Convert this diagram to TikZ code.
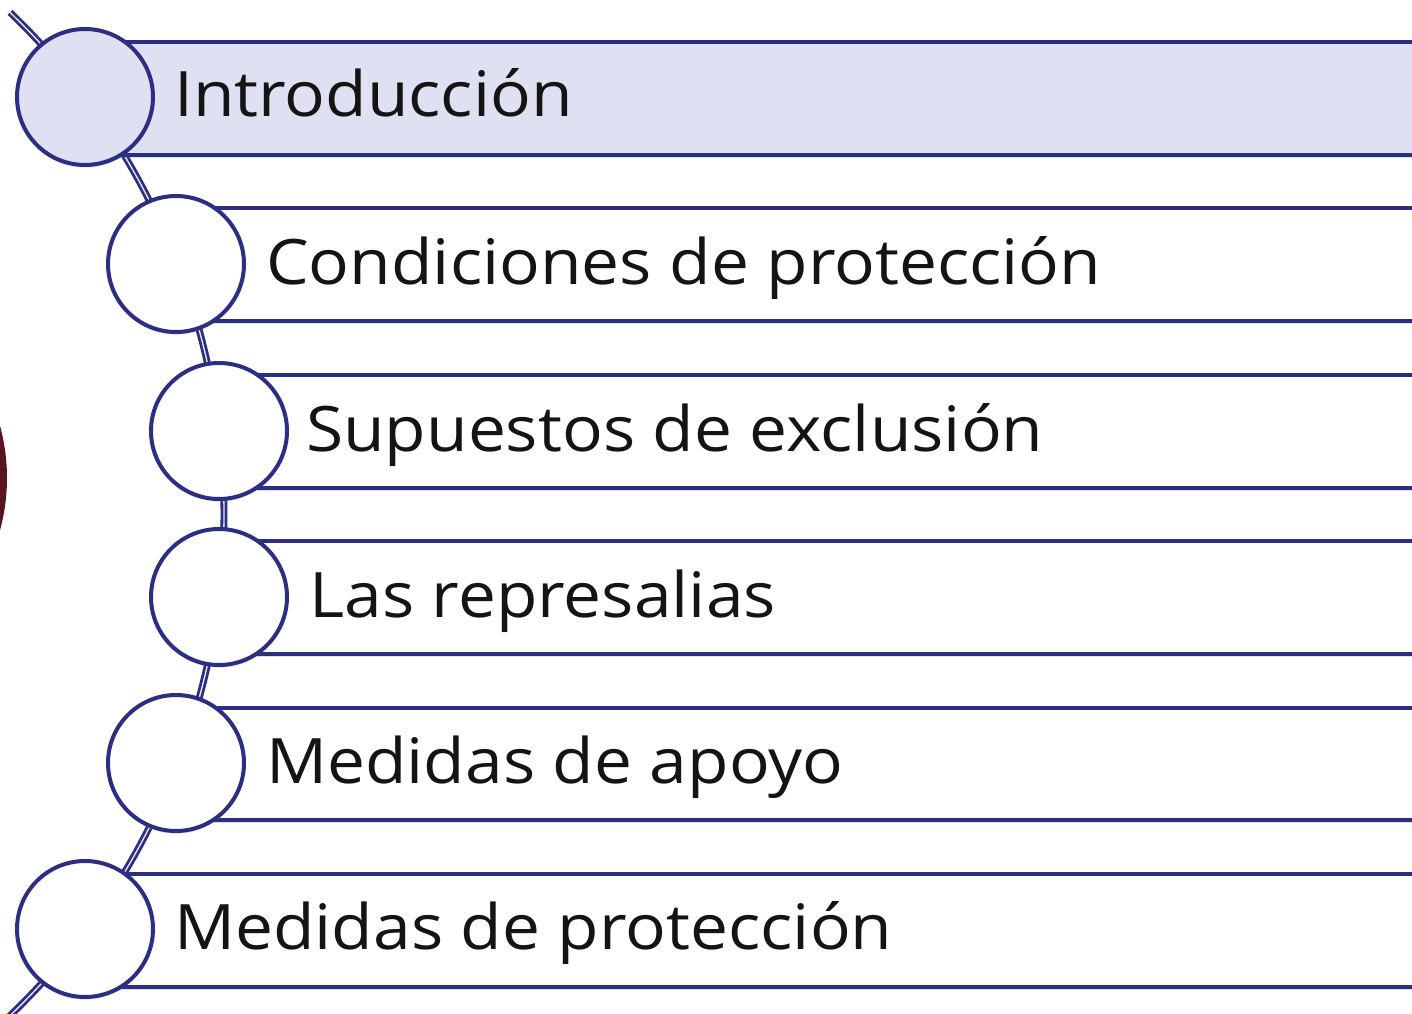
\documentclass[tikz,border=0pt]{standalone}
\usepackage{fontspec}
\setmainfont{Open Sans}[FakeStretch=1.08]
\usetikzlibrary{shadows}
\definecolor{navyline}{RGB}{44,46,132}
\definecolor{lavender}{RGB}{223,224,242}
\definecolor{darkwine}{RGB}{88,20,32}
\tikzset{
  bar/.style={draw=navyline, line width=3pt, fill=white,
    drop shadow={opacity=0.25, shadow xshift=0pt, shadow yshift=-2pt}},
  ring/.style={circle, draw=navyline, line width=3pt, fill=white,
    minimum size=102pt, inner sep=0pt,
    drop shadow={opacity=0.25, shadow xshift=0pt, shadow yshift=-2pt}},
  rowtext/.style={anchor=base west, inner sep=0pt, text=black!92,
    font=\fontsize{47}{56}\selectfont},
  spine/.style={draw=navyline, double=lavender!70!white, line width=2.1pt, double distance=1pt}
}
\begin{document}
\begin{tikzpicture}[x=0.75pt,y=0.75pt,yscale=-1,xscale=1]
    \useasboundingbox (0,0) rectangle (1412,1013);
    \clip (0,0) rectangle (1412,1013);
    \fill[white] (0,0) rectangle (1412,1013);

    %Shape: Circle cut by the left edge
    \fill[darkwine] (-189.5,478) circle [radius=196.5];

    %Curve: spine through the circles
    \coordinate (hub) at (-471,514);
    \draw[spine] (hub) ++(-46.2:695) arc [start angle=-46.2, end angle=48, radius=695];

    %Shape: Bars
    \draw[bar, fill=lavender] (85,42) rectangle (1440,155);
    \draw[bar] (176,208) rectangle (1440,321);
    \draw[bar] (219,375) rectangle (1440,488);
    \draw[bar] (219,541) rectangle (1440,654);
    \draw[bar] (176,708) rectangle (1440,820);
    \draw[bar] (85,874) rectangle (1440,987);

    %Shape: Circles
    \node (c1) [ring, fill=lavender] at (85,97) {};
    \node (c2) [ring] at (176,264) {};
    \node (c3) [ring] at (219,431) {};
    \node (c4) [ring] at (219,597) {};
    \node (c5) [ring] at (176,763) {};
    \node (c6) [ring] at (85,929) {};

    % Text Node
    \node (t1) [rowtext] at (174,117) {Introducción};
    % Text Node
    \node (t2) [rowtext] at (266,284) {Condiciones de protección};
    % Text Node
    \node (t3) [rowtext] at (306,451) {Supuestos de exclusión};
    % Text Node
    \node (t4) [rowtext] at (309,617) {Las represalias};
    % Text Node
    \node (t5) [rowtext] at (266,783) {Medidas de apoyo};
    % Text Node
    \node (t6) [rowtext] at (174,949) {Medidas de protección};
\end{tikzpicture}
\end{document}
